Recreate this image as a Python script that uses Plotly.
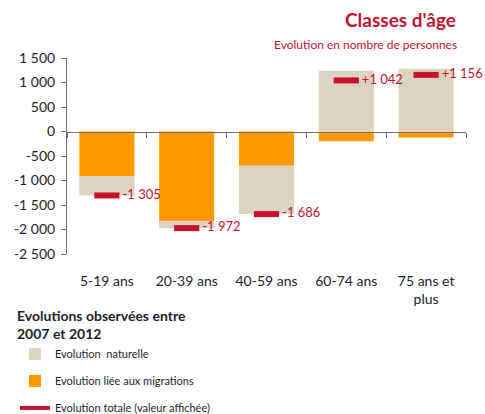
import plotly.graph_objects as go

categories = ["5-19 ans", "20-39 ans", "40-59 ans", "60-74 ans", "75 ans et<br>plus"]
naturelle = [-390, -142, -986, 1240, 1280]
migrations = [-915, -1830, -700, -198, -124]
totale = [-1305, -1972, -1686, 1042, 1156]
tick_vals = [1500, 1000, 500, 0, -500, -1000, -1500, -2000, -2500]
tick_text = ["1 500", "1 000", "500", "0", "-500", "-1 000", "-1 500", "-2 000", "-2 500"]

labels = [" " + (f"{v:+,}" if v > 0 else f"{v:,}").replace(",", " ") for v in totale]

FONT = "Lato"
RED = "#C4122F"
BEIGE = "#DDD3C1"
ORANGE = "#FF9900"
DARK = "#1E1E2E"

fig = go.Figure()
fig.add_trace(go.Bar(x=categories, y=migrations, name="Evolution liée aux migrations",
                     marker=dict(color=ORANGE, line=dict(width=0)), legendrank=2,
                     legendgroup="b"))
fig.add_trace(go.Bar(x=categories, y=naturelle, name="Evolution  naturelle",
                     marker=dict(color=BEIGE, line=dict(width=0)), legendrank=1,
                     legendgroup="a"))
fig.add_trace(go.Scatter(x=categories, y=totale, mode="markers+text",
                         marker=dict(symbol="line-ew", size=18, color=RED,
                                     line=dict(width=6, color=RED)),
                         text=labels, textposition="middle right",
                         textfont=dict(size=13, color=RED, family=FONT),
                         showlegend=False, cliponaxis=False))
fig.add_trace(go.Scatter(x=categories, y=[None] * len(categories), xaxis="x2",
                         mode="markers", showlegend=False, hoverinfo="skip"))
fig.add_trace(go.Scatter(x=[None], y=[None], mode="lines", name="Evolution totale (valeur affichée)",
                         line=dict(color=RED, width=4), legendrank=3, legendgroup="c"))

ymin, ymax = -2500, 1500
fig.update_layout(
    width=485, height=414,
    margin=dict(l=67, r=19, t=58, b=160, autoexpand=False),
    paper_bgcolor="white", plot_bgcolor="white",
    barmode="relative", bargap=0.31,
    font=dict(family=FONT, color=DARK),
    xaxis=dict(showline=False, showgrid=False, zeroline=False, ticks="outside",
               ticklen=14, tickcolor="rgba(0,0,0,0)", automargin=False, tickangle=0,
               tickfont=dict(size=14, color=DARK, family=FONT)),
    xaxis2=dict(overlaying="x", matches="x", anchor="free",
                position=(0 - ymin) / (ymax - ymin), side="bottom",
                showline=True, linecolor="#6E6E6E", linewidth=1,
                ticks="outside", tickson="boundaries", ticklen=5, tickcolor="#6E6E6E",
                showticklabels=False, showgrid=False, zeroline=False, automargin=False),
    yaxis=dict(range=[ymin, ymax], tickvals=tick_vals, ticktext=tick_text,
               showline=True, linecolor="#6E6E6E", linewidth=1, automargin=False,
               ticks="outside", ticklen=5, tickcolor="#6E6E6E", ticklabelstandoff=3,
               showgrid=False, zeroline=False,
               tickfont=dict(size=14, color=DARK, family=FONT)),
    legend=dict(xref="container", yref="container", x=15 / 485, y=1 - 303 / 414,
                xanchor="left", yanchor="top", traceorder="grouped",
                tracegroupgap=8,
                title=dict(text="<b>Evolutions observées entre<br>2007 et 2012</b>",
                           font=dict(size=14, color=DARK, family=FONT), side="top"),
                font=dict(size=11, color=DARK, family=FONT), bgcolor="rgba(0,0,0,0)"),
    annotations=[
        dict(text="<b>Classes d'âge</b>", xref="paper", yref="paper",
             x=(458 - 67) / 399, y=(254 - 20) / 196, xanchor="right", yanchor="middle",
             showarrow=False, font=dict(size=19, color=RED, family=FONT)),
        dict(text="Evolution en nombre de personnes", xref="paper", yref="paper",
             x=(459 - 67) / 399, y=(254 - 44) / 196, xanchor="right", yanchor="middle",
             showarrow=False, font=dict(size=12, color=RED, family=FONT)),
    ],
)

fig.write_html("out.html", config={"displayModeBar": False},
               post_script="document.body.style.margin='0px';")
